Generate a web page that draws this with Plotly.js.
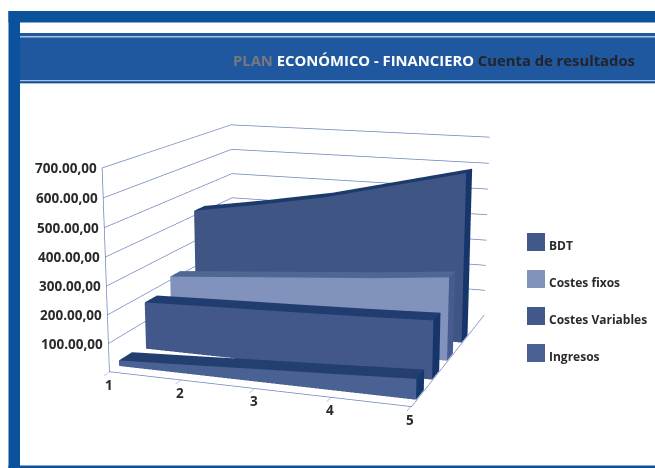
<!DOCTYPE html>
<html>
<head>
<meta charset="utf-8">
<script src="https://cdn.plot.ly/plotly-3.0.1.min.js"></script>
<style>
html,body{margin:0;padding:0;background:#fff;overflow:hidden;width:655px;height:468px}
#chart{position:absolute;left:0;top:-301px;width:655px;height:1098px}
</style>
</head>
<body>
<div id="chart"></div>
<script>
const categories = [1, 2, 3, 4, 5];
const seriesNames = ['BDT', 'Costes fixos', 'Costes Variables', 'Ingresos'];
const bdt = [420, 460, 505, 565, 625];
const costesFixos = [215, 235, 255, 275, 300];
const costesVariables = [172, 180, 187, 195, 205];
const ingresos = [20, 32, 45, 57, 70];
const zTicks = [100, 200, 300, 400, 500, 600, 700];
const zTickLabels = ['100.00,00', '200.00,00', '300.00,00', '400.00,00', '500.00,00', '600.00,00', '700.00,00'];
const depthBands = [[0.65, 0.74], [0.445, 0.525], [0.25, 0.34], [0.06, 0.15]];
const frontColors = ['#3f5685', '#8193bc', '#42588a', '#4a6194'];
const topColors = ['#1c3a6c', '#4f6793', '#213d6f', '#223f70'];
const sideColors = ['#16356a', '#465c8e', '#16356a', '#16386b'];
const legendColors = ['#42588a', '#8193bc', '#42588a', '#4a6194'];

const H = 1098, TOP = 301, W = 655;
const py = y => 1 - (y + TOP) / H;
const px = x => x / W;

// One extruded band of the 3D area chart, as a triangle mesh.
function band(values, depth, colors, name) {
  const x = [], y = [], z = [], i = [], j = [], k = [], facecolor = [];
  categories.forEach((c, n) => {
    x.push(c, c, c, c);
    y.push(depth[0], depth[0], depth[1], depth[1]);
    z.push(0, values[n], values[n], 0);
  });
  const quad = (a, b, c, d, col) => {
    i.push(a, a); j.push(b, c); k.push(c, d); facecolor.push(col, col);
  };
  for (let n = 0; n < categories.length - 1; n++) {
    const p = n * 4, q = (n + 1) * 4;
    quad(p, q, q + 1, p + 1, colors[0]);         // front wall
    quad(p + 1, q + 1, q + 2, p + 2, colors[1]); // top strip
  }
  const e = (categories.length - 1) * 4;
  quad(e, e + 1, e + 2, e + 3, colors[2]);       // closing side
  return {
    type: 'mesh3d', name, x, y, z, i, j, k, facecolor, flatshading: true,
    lighting: {ambient: 1, diffuse: 0, specular: 0, roughness: 1, fresnel: 0},
    hoverinfo: 'skip', showscale: false
  };
}

const values = [bdt, costesFixos, costesVariables, ingresos];
const traces = values.map((v, n) =>
  band(v, depthBands[n], [frontColors[n], topColors[n], sideColors[n]], seriesNames[n]));

const axisFont = {family: '"Open Sans", sans-serif', size: 13.5, color: '#2a2a2e', weight: 700};
const sceneAnnotations = [];
zTicks.forEach((t, n) => sceneAnnotations.push({
  x: 1, y: 0, z: t, text: zTickLabels[n], showarrow: false,
  xanchor: 'right', xshift: -4, font: axisFont
}));
categories.forEach(c => sceneAnnotations.push({
  x: c, y: 0, z: 0, text: String(c), showarrow: false,
  yshift: -13, xshift: -1, font: axisFont
}));

const blue = '#0a529c', head = '#1f589f', pale = '#a9c0de';
const rect = (x0, y0, x1, y1, color) => ({
  type: 'rect', xref: 'paper', yref: 'paper', layer: 'below',
  x0: px(x0), x1: px(x1), y0: py(y0), y1: py(y1),
  fillcolor: color, line: {width: 0}
});
const shapes = [
  rect(8.5, 11, 655, 22.5, blue),
  rect(8.5, 11, 20, 468, blue),
  rect(8.5, 465.5, 655, 468, blue),
  rect(20, 33, 655, 84, head),
  rect(20, 36, 655, 37.5, pale),
  rect(20, 80, 655, 81.5, pale),
  rect(20, 81.5, 655, 83, blue),
  rect(20, 83, 655, 84, pale)
];

const legendTops = [233, 270, 307, 344];
const annotations = [{
  xref: 'paper', yref: 'paper', x: px(637), y: py(60), xanchor: 'right', yanchor: 'middle',
  showarrow: false,
  text: '<span style="color:#77797f">PLAN</span> <span style="color:#ffffff">ECONÓMICO - FINANCIERO</span> <span style="color:#23232a">Cuenta de resultados</span>',
  font: {family: '"Open Sans", sans-serif', size: 14.8, weight: 700}
}];
seriesNames.forEach((s, n) => {
  shapes.push(rect(527, legendTops[n], 545, legendTops[n] + 18, legendColors[n]));
  annotations.push({
    xref: 'paper', yref: 'paper', x: px(547), y: py(legendTops[n] + 12), xanchor: 'left', yanchor: 'middle',
    showarrow: false, text: s,
    font: {family: '"Open Sans", sans-serif', size: 12, color: '#2a2a2e', weight: 700}
  });
});

const gridBlue = '#6d82bd';
const noTitle = {text: ''};
const layout = {
  width: W, height: H, margin: {l: 0, r: 0, t: 0, b: 0},
  paper_bgcolor: '#ffffff', showlegend: false, shapes, annotations,
  scene: {
    domain: {x: [0, 0.947], y: [0, 1]},
    aspectmode: 'manual', aspectratio: {x: 1, y: 1.046, z: 0.662},
    camera: {eye: {x: 1.435, y: -4.143, z: 1.015}, center: {x: 0, y: 0, z: 0}, up: {x: 0, y: 0, z: 1}},
    bgcolor: 'rgba(0,0,0,0)',
    annotations: sceneAnnotations,
    xaxis: {range: [0.99, 5.01], tickvals: categories, title: noTitle, showticklabels: false, showgrid: false, zeroline: false,
            showline: true, linecolor: gridBlue, linewidth: 1.5, ticks: 'outside', ticklen: 3, tickcolor: gridBlue,
            showbackground: false, showspikes: false},
    yaxis: {range: [0, 1], title: noTitle, showticklabels: false, showgrid: false, zeroline: false,
            showline: true, linecolor: gridBlue, linewidth: 1.5, ticks: '', showbackground: false, showspikes: false},
    zaxis: {range: [0, 700], tickvals: zTicks, title: noTitle, showticklabels: false, showgrid: true, gridcolor: gridBlue, gridwidth: 1.5,
            zeroline: false, showline: true, linecolor: gridBlue, linewidth: 1.5, ticks: '', showbackground: false, showspikes: false}
  }
};
Plotly.newPlot('chart', traces, layout, {displayModeBar: false});
</script>
</body>
</html>
